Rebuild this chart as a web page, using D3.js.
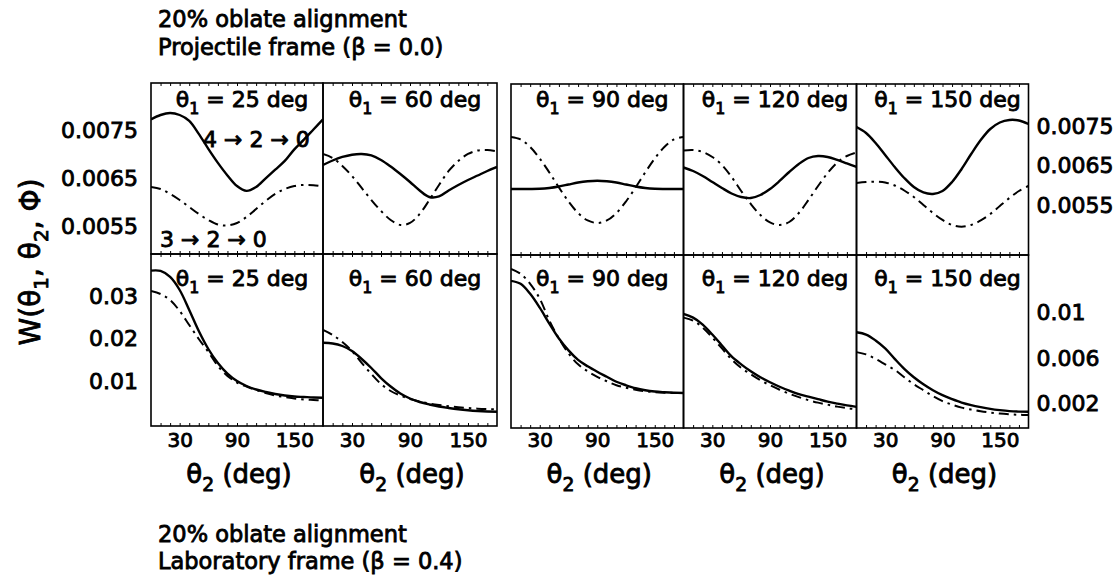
<!DOCTYPE html>
<html><head><meta charset="utf-8">
<script src="https://cdn.jsdelivr.net/npm/d3@7"></script>
<style>
body{margin:0;background:#fff}
svg text{font-family:"DejaVu Sans",sans-serif;fill:#000;stroke:#000;stroke-width:0.85px}
</style></head><body><svg id="c" width="1119" height="576"></svg>
<script>
// ---------------- data ----------------
const theta2 = [0,10,20,30,40,50,60,70,80,90,100,110,120,130,140,150,160,170,180];
const theta1 = [25, 60, 90, 120, 150];

// Projectile frame (beta = 0.0): solid = 4->2->0, dash-dot = 3->2->0
const proj25Solid = [0.00772,0.00781,0.00785,0.00781,0.00769,0.00742,0.00711,0.00682,0.00656,0.00634,0.00624,0.00632,0.00650,0.00668,0.00686,0.00710,0.00730,0.00751,0.00772];
const proj25Dash  = [0.006321,0.006280,0.006177,0.006052,0.005908,0.005763,0.005639,0.005546,0.005525,0.005577,0.005701,0.005866,0.006032,0.006177,0.006280,0.006342,0.006363,0.006359,0.006332];
const proj60Solid = [0.006776,0.006869,0.006942,0.006989,0.007004,0.006973,0.006880,0.006745,0.006590,0.006425,0.006249,0.006114,0.006125,0.006249,0.006363,0.006466,0.006559,0.006652,0.006735];
const proj60Dash  = [0.007004,0.006921,0.006756,0.006549,0.006301,0.006052,0.005825,0.005639,0.005535,0.005577,0.005763,0.006052,0.006363,0.006652,0.006859,0.007004,0.007076,0.007086,0.007055];
const proj90Solid = [0.005909,0.005909,0.005909,0.005914,0.005935,0.005973,0.006024,0.006075,0.006108,0.006121,0.006108,0.006075,0.006024,0.005973,0.005935,0.005914,0.005909,0.005909,0.005909];
const proj90Dash  = [0.007237,0.007174,0.006982,0.006688,0.006331,0.005948,0.005590,0.005296,0.005105,0.005041,0.005105,0.005296,0.005590,0.005948,0.006331,0.006688,0.006982,0.007174,0.007237];
const proj120Solid= [0.006458,0.006369,0.006241,0.006088,0.005935,0.005794,0.005705,0.005679,0.005756,0.005909,0.006114,0.006343,0.006548,0.006701,0.006752,0.006727,0.006650,0.006561,0.006471];
const proj120Dash = [0.006893,0.006905,0.006854,0.006727,0.006522,0.006216,0.005858,0.005526,0.005245,0.005054,0.004990,0.005066,0.005296,0.005628,0.005986,0.006318,0.006586,0.006752,0.006842];
const proj150Solid= [0.007493,0.007340,0.007084,0.006778,0.006471,0.006190,0.005960,0.005820,0.005782,0.005858,0.006088,0.006420,0.006803,0.007161,0.007442,0.007608,0.007672,0.007659,0.007569];
const proj150Dash = [0.006063,0.006088,0.006096,0.006075,0.005999,0.005871,0.005705,0.005501,0.005296,0.005118,0.004990,0.004946,0.004990,0.005105,0.005271,0.005475,0.005679,0.005858,0.005986];

// Laboratory frame (beta = 0.4)
const lab25Solid = [0.03591,0.03584,0.03444,0.03140,0.02674,0.02183,0.01763,0.01437,0.01191,0.01016,0.00900,0.00818,0.00760,0.00713,0.00678,0.00655,0.00643,0.00631,0.00627];
const lab25Dash  = [0.03117,0.03047,0.02907,0.02650,0.02323,0.01997,0.01693,0.01367,0.01133,0.00981,0.00888,0.00806,0.00736,0.00678,0.00643,0.00608,0.00585,0.00573,0.00561];
const lab60Solid = [0.01910,0.01892,0.01833,0.01717,0.01530,0.01320,0.01086,0.00888,0.00725,0.00608,0.00526,0.00468,0.00421,0.00386,0.00356,0.00333,0.00316,0.00305,0.00300];
const lab60Dash  = [0.02207,0.02090,0.01927,0.01717,0.01437,0.01180,0.00946,0.00783,0.00678,0.00596,0.00538,0.00491,0.00456,0.00428,0.00405,0.00386,0.00370,0.00361,0.00356];
const lab90Solid = [0.012776,0.012515,0.011643,0.010422,0.009026,0.007718,0.006672,0.005843,0.005276,0.004797,0.004361,0.003924,0.003619,0.003358,0.003183,0.003070,0.003009,0.002965,0.002948];
const lab90Dash  = [0.013823,0.013387,0.012515,0.011206,0.009288,0.007718,0.006410,0.005451,0.004840,0.004361,0.003968,0.003619,0.003401,0.003227,0.003096,0.003009,0.002965,0.002948,0.002922];
const lab120Solid= [0.009872,0.009549,0.008939,0.008067,0.007108,0.006148,0.005451,0.004840,0.004317,0.003881,0.003488,0.003140,0.002834,0.002616,0.002398,0.002180,0.002006,0.001849,0.001727];
const lab120Dash = [0.009549,0.009288,0.008677,0.007805,0.006846,0.005887,0.005145,0.004579,0.004055,0.003619,0.003227,0.002878,0.002573,0.002311,0.002093,0.001919,0.001744,0.001613,0.001500];
const lab150Solid= [0.008268,0.008067,0.007544,0.006846,0.005930,0.005058,0.004317,0.003706,0.003183,0.002747,0.002398,0.002093,0.001875,0.001701,0.001552,0.001439,0.001352,0.001308,0.001291];
const lab150Dash = [0.006523,0.006323,0.005930,0.005451,0.004971,0.004317,0.003706,0.003183,0.002660,0.002224,0.001919,0.001657,0.001483,0.001334,0.001221,0.001134,0.001073,0.001029,0.001003];

// tick labels
const xTicks = [30, 90, 150];
const yTicksProjLeft = [0.0075, 0.0065, 0.0055];
const yTicksProjRight = [0.0075, 0.0065, 0.0055];
const yTicksLabLeft = [0.03, 0.02, 0.01];
const yTicksLabRight = [0.01, 0.006, 0.002];

const headerTop = ["20% oblate alignment", "Projectile frame (β = 0.0)"];
const headerBottom = ["20% oblate alignment", "Laboratory frame (β = 0.4)"];
const transSolid = "4 → 2 → 0";
const transDash = "3 → 2 → 0";

// ---------------- layout ----------------
const svg = d3.select("#c");
const groups = [
  {edges:[151,323,497], idx:[0,1], rowTop:[83,254], rowBot:[254,426],
   yProj: d3.scaleLinear([0.004935,0.008472],[254,83]),
   yLab: d3.scaleLinear([-0.00034,0.0398],[426,254])},
  {edges:[511,683.5,856.5,1028.5], idx:[2,3,4], rowTop:[84,255], rowBot:[255,428],
   yProj: d3.scaleLinear([0.004223,0.008591],[255,84]),
   yLab: d3.scaleLinear([-0.00013,0.01504],[428,255])}
];
const projSolid=[proj25Solid,proj60Solid,proj90Solid,proj120Solid,proj150Solid];
const projDash=[proj25Dash,proj60Dash,proj90Dash,proj120Dash,proj150Dash];
const labSolid=[lab25Solid,lab60Solid,lab90Solid,lab120Solid,lab150Solid];
const labDash=[lab25Dash,lab60Dash,lab90Dash,lab120Dash,lab150Dash];

function thetaText(sel, sub, rest, fs){
  sel.append("tspan").text("θ");
  sel.append("tspan").style("font-size", (fs*0.72)+"px").attr("dy", fs*0.3).text(sub);
  sel.append("tspan").attr("dy", -fs*0.3).text(rest);
}

let clipId = 0;
const minorTicks = [10,20,30,40,50,60,70,80,90,100,110,120,130,140,150,160,170];
function drawPanel(x0, x1, yT, yB, yScale, solid, dash, label, labelY){
  const x = d3.scaleLinear([0,180],[x0,x1]);
  const id = "clip"+(clipId++);
  svg.append("clipPath").attr("id", id).append("rect")
    .attr("x", x0).attr("y", yT).attr("width", x1-x0).attr("height", yB-yT);
  const g = svg.append("g").attr("clip-path", `url(#${id})`);
  const line = d3.line().x((d,i)=>x(theta2[i])).y(d=>yScale(d)).curve(d3.curveCatmullRom.alpha(0.5));
  g.append("path").attr("d", line(dash)).attr("fill","none").attr("stroke","#000")
    .attr("stroke-width",2).attr("stroke-dasharray","10,5,2.5,5");
  g.append("path").attr("d", line(solid)).attr("fill","none").attr("stroke","#000")
    .attr("stroke-width",2.4);
  svg.append("g").attr("transform",`translate(0,${yB})`)
    .call(d3.axisBottom(x).tickValues(minorTicks).tickSize(-3).tickFormat(""))
    .call(s=>s.select(".domain").remove());
  svg.append("g").attr("transform",`translate(0,${yT})`)
    .call(d3.axisTop(x).tickValues(minorTicks).tickSize(-3).tickFormat(""))
    .call(s=>s.select(".domain").remove());
  svg.append("rect").attr("x",x0).attr("y",yT).attr("width",x1-x0).attr("height",yB-yT)
    .attr("fill","none").attr("stroke","#000").attr("stroke-width",1.6);
  const t = svg.append("text").attr("x",(x0+x1)/2+5).attr("y",labelY)
    .attr("text-anchor","middle").style("font-size","22px");
  thetaText(t, "1", " = "+label+" deg", 22);
  return x;
}

groups.forEach(gr=>{
  gr.idx.forEach((pi,k)=>{
    const x0 = gr.edges[k], x1 = gr.edges[k+1];
    drawPanel(x0,x1,gr.rowTop[0],gr.rowTop[1],gr.yProj,projSolid[pi],projDash[pi],theta1[pi],107);
    const x = drawPanel(x0,x1,gr.rowBot[0],gr.rowBot[1],gr.yLab,labSolid[pi],labDash[pi],theta1[pi],286);
    const ax = svg.append("g").attr("transform","translate(0,426)")
      .call(d3.axisBottom(x).tickValues(xTicks).tickSize(0).tickPadding(7).tickFormat(d3.format("d")));
    ax.select(".domain").remove();
    ax.selectAll("text").attr("font-family",null).style("font-size","20px");
    const tl = svg.append("text").attr("x",(x0+x1)/2+2).attr("y",483)
      .attr("text-anchor","middle").style("font-size","26px");
    thetaText(tl, "2", " (deg)", 26);
  });
});

function yAxis(gen, xPos, ticks, fmt, pad){
  const a = svg.append("g").attr("transform",`translate(${xPos},0)`)
    .call(gen.tickValues(ticks).tickSize(0).tickPadding(pad).tickFormat(fmt));
  a.select(".domain").remove();
  a.selectAll("text").attr("font-family",null).style("font-size","22px");
}
yAxis(d3.axisLeft(groups[0].yProj), 151, yTicksProjLeft, d3.format(".4f"), 13);
yAxis(d3.axisLeft(groups[0].yLab), 151, yTicksLabLeft, d3.format(".2f"), 13);
yAxis(d3.axisRight(groups[1].yProj), 1028.5, yTicksProjRight, d3.format(".4f"), 8);
yAxis(d3.axisRight(groups[1].yLab), 1028.5, yTicksLabRight, d3.format("~g"), 8);

const yt = svg.append("text").attr("transform","translate(40,262) rotate(-90)")
  .attr("text-anchor","middle").style("font-size","28px");
yt.append("tspan").text("W(θ");
yt.append("tspan").style("font-size","20px").attr("dy",8).text("1");
yt.append("tspan").attr("dy",-8).text(", θ");
yt.append("tspan").style("font-size","20px").attr("dy",8).text("2");
yt.append("tspan").attr("dy",-8).text(", Φ)");

svg.append("text").attr("x",203).attr("y",147).style("font-size","22px").text(transSolid);
svg.append("text").attr("x",160).attr("y",247).style("font-size","22px").text(transDash);

headerTop.forEach((s,i)=>svg.append("text").attr("x",158).attr("y",27+i*28).style("font-size","22.5px").text(s));
headerBottom.forEach((s,i)=>svg.append("text").attr("x",158).attr("y",542+i*27).style("font-size","22.5px").text(s));
</script></body></html>
